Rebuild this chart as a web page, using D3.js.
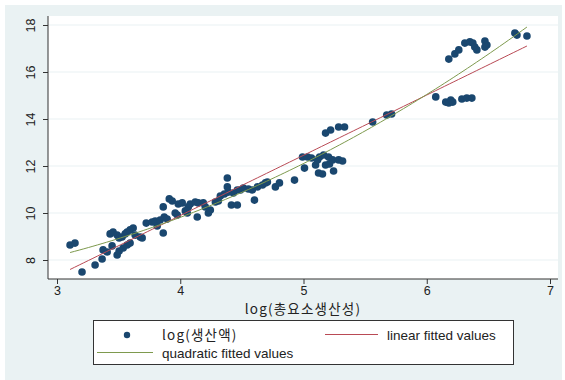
<!DOCTYPE html>
<html>
<head>
<meta charset="utf-8">
<script src="https://cdn.jsdelivr.net/npm/d3@7"></script>
<style>
  html, body { margin: 0; padding: 0; background: #ffffff; }
  svg { display: block; }
  text { font-family: "Liberation Sans", Arial, sans-serif; fill: #222; }
  .ko { font-family: "Noto Sans CJK KR", "Liberation Sans", sans-serif; letter-spacing: 1.2px; }
</style>
</head>
<body>
<svg id="chart" width="565" height="380"></svg>
<script>
// log(TFP) for each observation
const logTFP = [
  3.106, 3.146, 3.203, 3.309, 3.366, 3.374, 3.407, 3.447, 3.488, 3.504,
  3.537, 3.569, 3.593, 3.431, 3.455, 3.488, 3.504, 3.528, 3.553, 3.569,
  3.593, 3.618, 3.634, 3.675, 3.691, 3.724, 3.772, 3.797, 3.813, 3.862,
  3.837, 3.870, 3.894, 3.862, 3.911, 3.935, 3.959, 3.976, 3.984, 4.016,
  4.041, 4.057, 4.065, 4.081, 4.122, 4.146, 4.138, 4.187, 4.203, 4.228,
  4.244, 4.285, 4.309, 4.325, 4.358, 4.390, 4.382, 4.382, 4.415, 4.463,
  4.431, 4.463, 4.488, 4.512, 4.553, 4.585, 4.602, 4.626, 4.667, 4.691,
  4.707, 4.772, 4.805, 4.927, 4.992, 5.033, 5.065, 5.008, 5.098, 5.114,
  5.130, 5.122, 5.154, 5.163, 5.203, 5.236, 5.285, 5.317, 5.179, 5.211,
  5.244, 5.179, 5.220, 5.285, 5.333, 5.561, 5.675, 5.715, 6.073, 6.154,
  6.179, 6.195, 6.211, 6.285, 6.325, 6.366, 6.179, 6.228, 6.260, 6.309,
  6.350, 6.374, 6.390, 6.407, 6.472, 6.488, 6.472, 6.715, 6.732, 6.813
];
// log(output) for each observation
const logOutput = [
  8.64, 8.72, 7.49, 7.79, 8.04, 8.43, 8.34, 8.60, 8.21, 8.38,
  8.51, 8.64, 8.72, 9.11, 9.19, 9.06, 8.94, 8.98, 9.11, 9.19,
  9.28, 9.36, 9.06, 8.98, 8.94, 9.57, 9.62, 9.66, 9.45, 9.15,
  9.70, 9.83, 9.74, 10.26, 10.60, 10.51, 10.00, 9.91, 10.38, 10.43,
  10.09, 10.00, 10.26, 10.38, 10.47, 10.43, 9.83, 10.43, 10.26, 10.00,
  10.13, 10.47, 10.51, 10.72, 10.81, 10.89, 11.49, 11.11, 10.34, 10.34,
  10.85, 10.98, 10.98, 11.06, 11.02, 10.98, 10.55, 11.11, 11.19, 11.28,
  11.32, 11.11, 11.28, 11.40, 12.38, 12.38, 12.34, 11.91, 12.04, 12.26,
  12.38, 11.70, 11.66, 12.47, 12.38, 12.26, 12.26, 12.21, 12.04, 12.09,
  11.79, 13.40, 13.53, 13.66, 13.66, 13.87, 14.17, 14.21, 14.94, 14.72,
  14.68, 14.81, 14.72, 14.85, 14.89, 14.89, 16.55, 16.77, 16.94, 17.23,
  17.28, 17.23, 17.06, 16.94, 17.32, 17.15, 17.06, 17.66, 17.57, 17.53
];
const xTicks = [3, 4, 5, 6, 7];
const yTicks = [8, 10, 12, 14, 16, 18];
const xTitle = "log(총요소생산성)";
const legendLabels = ["log(생산액)", "linear fitted values", "quadratic fitted values"];

const navy = "#1a476f", maroon = "#b94a55", green = "#7e9a4e", bg = "#eaf2f3";

const svg = d3.select("#chart");

// outer graph region
svg.append("rect").attr("x", 5).attr("y", 5).attr("width", 557).attr("height", 375).attr("fill", bg);

const plot = { left: 48, right: 558, top: 16, bottom: 279 };
svg.append("rect")
  .attr("x", plot.left).attr("y", plot.top)
  .attr("width", plot.right - plot.left).attr("height", plot.bottom - plot.top)
  .attr("fill", "#ffffff");

const x = d3.scaleLinear().domain([3, 7]).range([57, 550]);
const y = d3.scaleLinear().domain([8, 18]).range([260, 25]);

// horizontal grid lines
svg.append("g").selectAll("line").data(yTicks).join("line")
  .attr("x1", plot.left).attr("x2", plot.right)
  .attr("y1", d => y(d)).attr("y2", d => y(d))
  .attr("stroke", bg).attr("stroke-width", 1.2);

// least-squares fits of log output on log TFP
function olsFit(X, Y, degree) {
  const n = X.length, k = degree + 1;
  const A = Array.from({ length: k }, () => new Array(k + 1).fill(0));
  for (let i = 0; i < n; i++) {
    const pw = d3.range(k).map(p => Math.pow(X[i], p));
    for (let r = 0; r < k; r++) {
      for (let c = 0; c < k; c++) A[r][c] += pw[r] * pw[c];
      A[r][k] += pw[r] * Y[i];
    }
  }
  for (let c = 0; c < k; c++) {
    let piv = c;
    for (let r = c + 1; r < k; r++) if (Math.abs(A[r][c]) > Math.abs(A[piv][c])) piv = r;
    [A[c], A[piv]] = [A[piv], A[c]];
    for (let r = 0; r < k; r++) {
      if (r === c) continue;
      const f = A[r][c] / A[c][c];
      for (let j = c; j <= k; j++) A[r][j] -= f * A[c][j];
    }
  }
  return d3.range(k).map(r => A[r][k] / A[r][r]);
}
const bLin = olsFit(logTFP, logOutput, 1);
const bQuad = olsFit(logTFP, logOutput, 2);
const [xmin, xmax] = d3.extent(logTFP);
const grid = d3.range(0, 101).map(i => xmin + (xmax - xmin) * i / 100);
const line = d3.line().x(d => x(d[0])).y(d => y(d[1]));

// scatter points
svg.append("g").selectAll("circle").data(logTFP.map((v, i) => [v, logOutput[i]])).join("circle")
  .attr("cx", d => x(d[0])).attr("cy", d => y(d[1])).attr("r", 3.8)
  .attr("fill", navy);

svg.append("path")
  .attr("d", line(grid.map(v => [v, bLin[0] + bLin[1] * v])))
  .attr("fill", "none").attr("stroke", maroon).attr("stroke-width", 1);
svg.append("path")
  .attr("d", line(grid.map(v => [v, bQuad[0] + bQuad[1] * v + bQuad[2] * v * v])))
  .attr("fill", "none").attr("stroke", green).attr("stroke-width", 1);

// axes
const yAxis = svg.append("g").attr("transform", `translate(${plot.left},0)`)
  .call(d3.axisLeft(y).tickValues(yTicks).tickSize(5).tickSizeOuter(0).tickFormat(d3.format("d")));
yAxis.select(".domain").attr("d", `M0,${plot.top}V${plot.bottom}`).attr("stroke", "#333");
yAxis.selectAll(".tick line").attr("stroke", "#333");
yAxis.selectAll(".tick text")
  .attr("x", 0).attr("dy", 0)
  .attr("transform", "translate(-13,0) rotate(-90)")
  .attr("text-anchor", "middle")
  .style("font-size", "12.5px").style("fill", "#222");

const xAxis = svg.append("g").attr("transform", `translate(0,${plot.bottom})`)
  .call(d3.axisBottom(x).tickValues(xTicks).tickSize(5).tickSizeOuter(0).tickFormat(d3.format("d")));
xAxis.select(".domain").attr("d", `M${plot.left},0H${plot.right}`).attr("stroke", "#333");
xAxis.selectAll(".tick line").attr("stroke", "#333");
xAxis.selectAll(".tick text").attr("y", 7).style("font-size", "12.5px").style("fill", "#222");

svg.append("text").attr("class", "ko")
  .attr("x", 303).attr("y", 314).attr("text-anchor", "middle")
  .style("font-size", "13.5px").text(xTitle);

// legend
const lg = svg.append("g");
lg.append("rect").attr("x", 93.5).attr("y", 320.5).attr("width", 420).attr("height", 44)
  .attr("fill", "#ffffff").attr("stroke", "#333").attr("stroke-width", 1);
lg.append("circle").attr("cx", 127).attr("cy", 335).attr("r", 3.2).attr("fill", navy);
lg.append("text").attr("class", "ko").attr("x", 162).attr("y", 340)
  .style("font-size", "13.5px").text(legendLabels[0]);
lg.append("line").attr("x1", 325).attr("x2", 378).attr("y1", 334.5).attr("y2", 334.5)
  .attr("stroke", maroon).attr("stroke-width", 1);
lg.append("text").attr("x", 387).attr("y", 340).style("font-size", "13.5px").text(legendLabels[1]);
lg.append("line").attr("x1", 97).attr("x2", 153).attr("y1", 352.5).attr("y2", 352.5)
  .attr("stroke", green).attr("stroke-width", 1);
lg.append("text").attr("x", 162).attr("y", 358).style("font-size", "13.5px").text(legendLabels[2]);
</script>
</body>
</html>
